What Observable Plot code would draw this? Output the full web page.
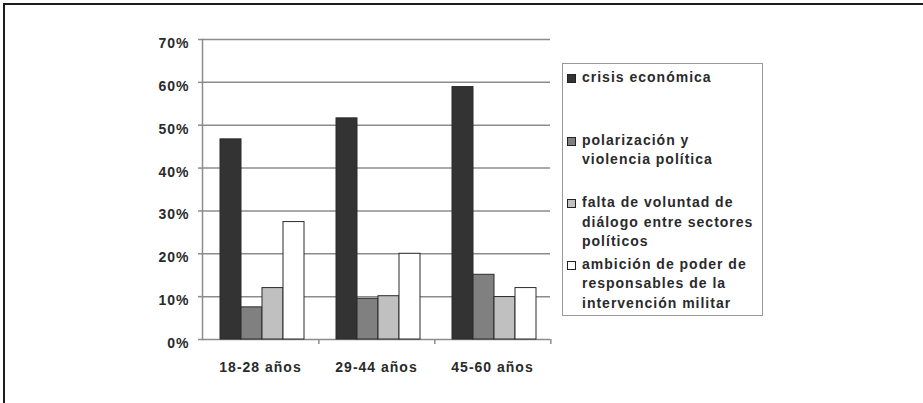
<!DOCTYPE html>
<html><head><meta charset="utf-8">
<script src="https://cdn.jsdelivr.net/npm/d3@7"></script>
<script src="https://cdn.jsdelivr.net/npm/@observablehq/plot@0.6"></script>
<style>
body{margin:0;background:#fff;}
#wrap{position:relative;width:923px;height:403px;overflow:hidden;font-family:"Liberation Sans",Arial,sans-serif;background:#fff;}
#chart{position:absolute;left:0;top:0;}
#frame{position:absolute;left:3px;top:3px;width:1000px;height:500px;border-top:2px solid #1c1c1c;border-left:2px solid #1c1c1c;pointer-events:none;}
#legend{position:absolute;left:562px;top:63px;width:199px;height:251px;border:1.5px solid #999;box-sizing:content-box;}
.item{position:absolute;left:4px;font-weight:bold;font-size:14px;letter-spacing:1px;color:#2a2a2a;line-height:19.7px;}
.sw{position:absolute;left:0;top:6px;width:7px;height:7px;border:1px solid #222;}
.txt{margin-left:15px;white-space:nowrap;}
</style>
</head><body>
<div id="wrap"><div id="chart"></div><div id="legend"></div><div id="frame"></div></div>
<script>
const categories = ["18-28 años", "29-44 años", "45-60 años"];
const series = [
  "crisis económica",
  "polarización y violencia política",
  "falta de voluntad de diálogo entre sectores políticos",
  "ambición de poder de responsables de la intervención militar"
];
const crisisEconomica = [0.467, 0.516, 0.589];
const polarizacion = [0.075, 0.095, 0.151];
const faltaVoluntad = [0.120, 0.101, 0.099];
const ambicionPoder = [0.274, 0.200, 0.120];
const yTicks = [0, 0.1, 0.2, 0.3, 0.4, 0.5, 0.6, 0.7];
const colors = ["#333333", "#808080", "#c0c0c0", "#ffffff"];
const legendLines = [
  ["crisis económica"],
  ["polarización y", "violencia política"],
  ["falta de voluntad de", "diálogo entre sectores", "políticos"],
  ["ambición de poder de", "responsables de la", "intervención militar"]
];

const seriesValues = [crisisEconomica, polarizacion, faltaVoluntad, ambicionPoder];
const rows = [];
categories.forEach((c, i) => series.forEach((s, j) => rows.push({cat: c, series: s, value: seriesValues[j][i]})));

const W = 923, H = 403, mL = 201, mR = 372, mT = 39, mB = 64;
const facetHalf = (W - mL - mR) / categories.length / 2;

const chart = Plot.plot({
  width: W, height: H,
  marginLeft: mL, marginRight: mR, marginTop: mT, marginBottom: mB,
  style: {fontFamily: "'Liberation Sans', Arial, sans-serif", fontSize: "14px", fontWeight: "bold", letterSpacing: "1px", color: "#2a2a2a", background: "transparent", overflow: "visible"},
  fx: {domain: categories, padding: 0, axis: null, label: null},
  x: {domain: series, paddingInner: 0, paddingOuter: 0.75, align: 0.56, axis: null, label: null},
  y: {domain: [0, 0.7], axis: null, label: null},
  color: {domain: series, range: colors},
  marks: [
    Plot.gridY(yTicks, {stroke: "#8c8c8c", strokeOpacity: 1, strokeWidth: 1.5}),
    Plot.barY(rows, {fx: "cat", x: "series", y: "value", fill: "series", stroke: "#2a2a2a", strokeWidth: 1}),
    Plot.frame({anchor: "left", stroke: "#8c8c8c", strokeWidth: 1.5, facetAnchor: "left"}),
    Plot.axisY(yTicks, {tickSize: 4, text: null, stroke: "#8c8c8c", strokeWidth: 1.5}),
    Plot.axisY(yTicks, {tickSize: 0, tickPadding: 13, dy: 4, tickFormat: d => Math.round(d * 100) + "%", fill: "#2a2a2a"}),
    Plot.axisFx({anchor: "bottom", tickSize: 5, text: null, dx: facetHalf, stroke: "#8c8c8c", strokeWidth: 1.5, label: null}),
    Plot.axisFx({anchor: "bottom", tickSize: 0, tickPadding: 23, fill: "#2a2a2a", label: null})
  ]
});
document.getElementById("chart").appendChild(chart);

const legend = document.getElementById("legend");
const itemTops = [4, 66.5, 129, 190.5];
legendLines.forEach((lines, j) => {
  const it = document.createElement("div");
  it.className = "item";
  it.style.top = itemTops[j] + "px";
  const sw = document.createElement("div");
  sw.className = "sw";
  sw.style.background = colors[j];
  it.appendChild(sw);
  const t = document.createElement("div");
  t.className = "txt";
  t.innerHTML = lines.map(l => l).join("<br>");
  it.appendChild(t);
  legend.appendChild(it);
});
</script>
</body></html>
